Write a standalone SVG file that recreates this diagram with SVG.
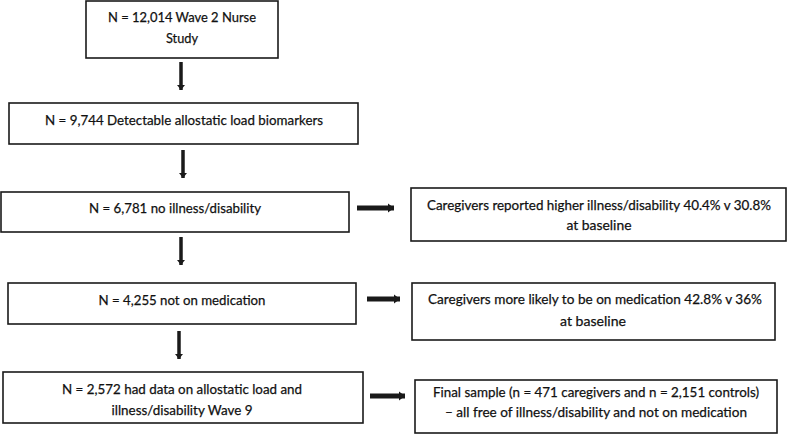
<svg xmlns="http://www.w3.org/2000/svg" width="787" height="434" viewBox="0 0 787 434">
<style>
.box{fill:#fff;stroke:#1a1a1a;stroke-width:1.6}
.t{font-family:Lato,"Liberation Sans",sans-serif;font-size:14px;fill:#111;stroke:#111;stroke-width:0.25;text-anchor:middle}
.v{stroke:#1a1a1a;stroke-width:3.5;fill:none}
.h{stroke:#1a1a1a;stroke-width:5;fill:none}
</style>
<defs>
<marker id="av" markerUnits="userSpaceOnUse" markerWidth="6" markerHeight="8" refX="5" refY="4" orient="auto">
<path d="M0,0 L5,4 L0,8 Z" fill="#1a1a1a"/>
</marker>
<marker id="ah" markerUnits="userSpaceOnUse" markerWidth="7" markerHeight="10" refX="6" refY="5" orient="auto">
<path d="M0,0.5 L6,5 L0,9.5 Z" fill="#1a1a1a"/>
</marker>
</defs>
<g id="connectors">
<line class="v" x1="181" y1="62" x2="181" y2="90" marker-end="url(#av)"/>
<line class="v" x1="183" y1="150" x2="183" y2="178" marker-end="url(#av)"/>
<line class="v" x1="181" y1="237" x2="181" y2="265" marker-end="url(#av)"/>
<line class="v" x1="179" y1="331" x2="179" y2="359" marker-end="url(#av)"/>
<line class="h" x1="357" y1="208" x2="394" y2="208" marker-end="url(#ah)"/>
<line class="h" x1="367" y1="299" x2="400" y2="299" marker-end="url(#ah)"/>
<line class="h" x1="370" y1="396" x2="405" y2="396" marker-end="url(#ah)"/>
</g>
<g id="n1">
<rect class="box" x="86" y="1" width="192" height="57"/>
<text class="t" x="182" y="22" textLength="148" lengthAdjust="spacingAndGlyphs">N = 12,014 Wave 2 Nurse</text>
<text class="t" x="182" y="43" textLength="32" lengthAdjust="spacingAndGlyphs">Study</text>
</g>
<g id="n2">
<rect class="box" x="9" y="103" width="349" height="41"/>
<text class="t" x="184" y="125" textLength="278" lengthAdjust="spacingAndGlyphs">N = 9,744 Detectable allostatic load biomarkers</text>
</g>
<g id="n3">
<rect class="box" x="1" y="192" width="348" height="40"/>
<text class="t" x="175" y="213" textLength="172" lengthAdjust="spacingAndGlyphs">N = 6,781 no illness/disability</text>
</g>
<g id="n4">
<rect class="box" x="8" y="283" width="348" height="41"/>
<text class="t" x="182" y="305" textLength="167" lengthAdjust="spacingAndGlyphs">N = 4,255 not on medication</text>
</g>
<g id="n5">
<rect class="box" x="3" y="372" width="360" height="51"/>
<text class="t" x="182" y="394" textLength="240" lengthAdjust="spacingAndGlyphs">N = 2,572 had data on allostatic load and</text>
<text class="t" x="182" y="415" textLength="141" lengthAdjust="spacingAndGlyphs">illness/disability Wave 9</text>
</g>
<g id="nA">
<rect class="box" x="411" y="188" width="375" height="53"/>
<text class="t" x="599" y="210" textLength="344" lengthAdjust="spacingAndGlyphs">Caregivers reported higher illness/disability 40.4% v 30.8%</text>
<text class="t" x="599" y="230" textLength="65" lengthAdjust="spacingAndGlyphs">at baseline</text>
</g>
<g id="nB">
<rect class="box" x="412" y="283" width="363" height="57"/>
<text class="t" x="595" y="304" textLength="334" lengthAdjust="spacingAndGlyphs">Caregivers more likely to be on medication 42.8% v 36%</text>
<text class="t" x="593" y="326" textLength="66" lengthAdjust="spacingAndGlyphs">at baseline</text>
</g>
<g id="nC">
<rect class="box" x="415" y="380" width="362" height="53"/>
<text class="t" x="596" y="397" textLength="326" lengthAdjust="spacingAndGlyphs">Final sample (n = 471 caregivers and n = 2,151 controls)</text>
<text class="t" x="596" y="417" textLength="302" lengthAdjust="spacingAndGlyphs">– all free of illness/disability and not on medication</text>
</g>
</svg>
